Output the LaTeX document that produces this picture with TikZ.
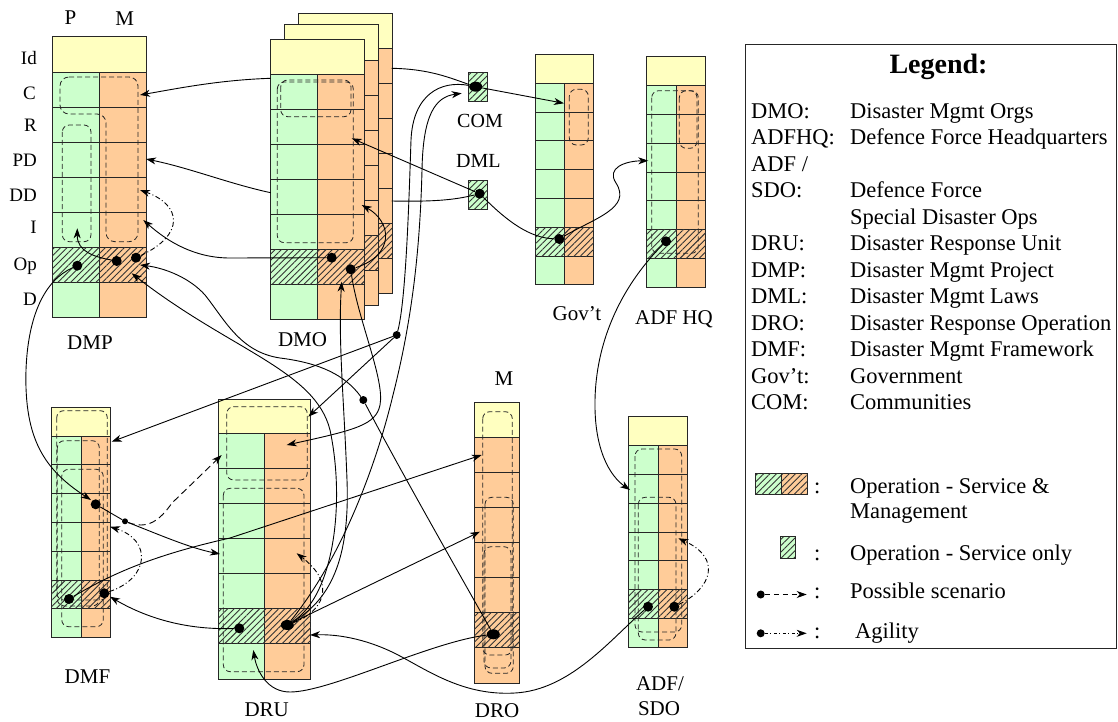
\documentclass[tikz,border=0pt]{standalone}
\usepackage{fontspec}
\setmainfont{Liberation Serif}
\usetikzlibrary{arrows.meta,patterns.meta,shapes.misc,shapes.geometric,calc}
\definecolor{pgreen}{RGB}{204,255,204}
\definecolor{morange}{RGB}{255,204,153}
\definecolor{idyel}{RGB}{255,255,192}
\newcommand\myfs[1]{\fontsize{#1}{#1}\selectfont}
\tikzset{
 cellb/.style={draw=black!85, line width=0.9pt, inner sep=0pt, outer sep=0pt, anchor=north west},
 pc/.style={cellb, fill=pgreen},
 mc/.style={cellb, fill=morange},
 idc/.style={cellb, fill=idyel},
 hatch/.style={pattern={Lines[angle=45,distance=4.5pt,line width=0.9pt]}, pattern color=black!80},
 smallop/.style={chamfered rectangle, chamfered rectangle corners=north west, chamfered rectangle sep=3pt,
   draw=black!85, line width=0.9pt, fill=pgreen, inner sep=0pt, postaction={hatch}},
 dot/.style={circle, fill=black, inner sep=0pt, minimum size=10pt},
 sdot/.style={circle, fill=black, inner sep=0pt, minimum size=8pt},
 tdot/.style={circle, fill=black, inner sep=0pt, minimum size=6pt},
 edot/.style={ellipse, fill=black, inner sep=0pt, minimum width=13pt, minimum height=10pt},
 conn/.style={draw=black, line width=0.9pt},
 arr/.style={conn, -{Stealth[length=10pt,width=7pt,inset=3pt]}},
 possible/.style={arr, dash pattern=on 7pt off 4pt},
 agile/.style={arr, dash pattern=on 5pt off 2.5pt on 1pt off 2.5pt},
 dloop/.style={draw=black!85, line width=0.8pt, dash pattern=on 5pt off 3pt, rounded corners=7pt},
 lbl/.style={font=\myfs{21}, inner sep=0pt},
 rlbl/.style={font=\myfs{19}, inner sep=0pt, anchor=base east},
 lg/.style={font=\myfs{22.5}, inner sep=0pt, anchor=base west},
}
% column of cells: name, x, y, column width, id height, row height
\newcommand\mkcol[6]{%
  \node[idc, minimum width={2*#4pt}, minimum height={#5pt}] (#1-Id) at (#2,#3) {};
  \foreach \k in {1,...,7}{%
    \pgfmathsetmacro\yy{#3+#5+(\k-1)*#6}%
    \node[pc, minimum width={#4pt}, minimum height={#6pt}] (#1-P\k) at (#2,\yy) {};
    \node[mc, minimum width={#4pt}, minimum height={#6pt}] (#1-M\k) at (#2+#4,\yy) {};
  }%
  \fill[hatch] (#1-P6.north west) rectangle (#1-M6.south east);
}
\newcommand\mkcolM[6]{%
  \node[idc, minimum width={#4pt}, minimum height={#5pt}] (#1-Id) at (#2,#3) {};
  \foreach \k in {1,...,7}{%
    \pgfmathsetmacro\yy{#3+#5+(\k-1)*#6}%
    \node[mc, minimum width={#4pt}, minimum height={#6pt}] (#1-M\k) at (#2,\yy) {};
  }%
  \fill[hatch] (#1-M6.north west) rectangle (#1-M6.south east);
}
\begin{document}
\begin{tikzpicture}[x=1pt,y=-1pt]
\useasboundingbox (0,0) rectangle (1118,722);

% ---------- columns ----------
\mkcol{dmoc}{298.7}{13}{46.7}{35.7}{35}
\mkcol{dmob}{284.7}{24.5}{46.7}{35.7}{35}
\mkcol{dmo}{270.7}{39}{46.7}{35.7}{35}
\mkcol{dmp}{52.7}{36}{46.7}{36}{35}
\mkcol{gov}{535.3}{54.7}{29.3}{28.6}{28.8}
\mkcol{hq}{646.7}{56.7}{29.5}{29}{28.8}
\mkcol{dmf}{51.7}{407.3}{29.3}{28.7}{28.8}
\mkcol{dru}{218.3}{399}{46.3}{34.3}{35.1}
\mkcolM{dro}{474}{402.7}{45.3}{34.6}{35.1}
\mkcol{sdo}{628.7}{416.7}{29.3}{29}{28.8}

\node[smallop, minimum width=19.4pt, minimum height=29.4pt] (combox) at (478,87) {};
\node[smallop, minimum width=19.4pt, minimum height=29pt] (dmlbox) at (478,194.8) {};

% ---------- labels ----------
\node[lbl, anchor=base] (lP) at (70.5,25) {P};
\node[lbl, anchor=base] (lM) at (124.7,26) {M};
\node[rlbl] (rId) at (37,65) {Id};
\node[rlbl] (rC) at (36,99.5) {C};
\node[rlbl] (rR) at (37,131.7) {R};
\node[rlbl] (rPD) at (37,166.7) {PD};
\node[rlbl] (rDD) at (37,201.7) {DD};
\node[rlbl] (rI) at (37,233.3) {I};
\node[rlbl] (rOp) at (37,270) {Op};
\node[rlbl] (rD) at (37,305) {D};
\node[lbl, anchor=base] (nDMP) at (90,349) {DMP};
\node[lbl, anchor=base] (nDMO) at (302.5,346.5) {DMO};
\node[lbl, anchor=base, font=\myfs{20}] (nCOM) at (480,127.3) {COM};
\node[lbl, anchor=base, font=\myfs{20}] (nDML) at (478.3,167.3) {DML};
\node[lbl, anchor=base] (nGov) at (577,320) {Gov't};
\node[lbl, anchor=base] (nHQ) at (674,324) {ADF HQ};
\node[lbl, anchor=base] (nDMF) at (87.5,683) {DMF};
\node[lbl, anchor=base] (nDRU) at (266.7,716.5) {DRU};
\node[lbl, anchor=base] (nDROM) at (504,385) {M};
\node[lbl, anchor=base] (nDRO) at (497,717.5) {DRO};
\node[lbl, anchor=base] (nSDOa) at (660,690) {ADF/};
\node[lbl, anchor=base] (nSDOb) at (659,715) {SDO};

% ---------- dashed loops ----------
\draw[dloop, rounded corners=9pt] (60,77) -- (138,77) -- (138,241.7) -- (106,241.7) -- (106,114) -- (60,114) -- cycle;
\draw[dloop] (62.3,125) rectangle (91,241.7);
\draw[dloop] (280.7,80) rectangle (351,116.7);
\draw[dloop] (277.3,82) rectangle (353.3,242.7);
\draw[dloop] (569.3,89.3) rectangle (588.3,145);
\draw[dloop] (651.7,90.7) rectangle (698.3,253.3);
\draw[dloop] (679.3,90.7) rectangle (697,148.3);
\draw[dloop] (56.7,410.7) rectangle (107.3,600);
\draw[dloop] (57.3,440.7) rectangle (99.3,606);
\draw[dloop] (61.7,469.3) rectangle (103.3,626.7);
\draw[dloop] (226.7,406.7) rectangle (307.3,480);
\draw[dloop] (223.3,488.3) rectangle (304,671.7);
\draw[dloop] (482.7,411.7) rectangle (512.3,655);
\draw[dloop] (485,497.3) rectangle (513.3,673.3);
\draw[dloop] (484,546.7) rectangle (511,668);
\draw[dloop] (635,449) rectangle (681.7,632);
\draw[dloop] (638.3,497.3) rectangle (676,640);

% ---------- dots ----------
\node[dot] (dmpP) at (77.3,265.7) {};
\node[dot] (dmpM1) at (116.7,261) {};
\node[dot] (dmpM2) at (136,257.7) {};
\node[dot] (dmoM1) at (331.7,257.7) {};
\node[dot] (dmoM2) at (350.7,269.3) {};
\node[edot] (comD) at (475.7,86.7) {};
\node[dot] (dmlD) at (479.7,193.7) {};
\node[dot] (govD) at (559.3,239) {};
\node[dot] (hqD) at (666,241.3) {};
\node[sdot] (J2) at (396.7,335) {};
\node[sdot] (J1) at (363.3,400) {};
\node[dot] (dmfD) at (95.7,504.3) {};
\node[tdot] (J3) at (125,521.3) {};
\node[dot] (dmfP) at (69,599) {};
\node[dot] (dmfM) at (104.3,593.3) {};
\node[dot] (druP) at (239.3,628.3) {};
\node[edot] (druM) at (287.3,625) {};
\node[edot] (droD) at (493.3,634.3) {};
\node[dot] (sdoP) at (648,606.7) {};
\node[dot] (sdoM) at (674.3,606.7) {};

% ---------- connector end points ----------
\coordinate (a1s) at (270.7,78.3);  \coordinate (a1e) at (140,95);
\coordinate (a2s) at (270.7,192.7); \coordinate (a2e) at (146,159);
\coordinate (a3e) at (143.3,220);
\coordinate (a4e) at (140,265);
\coordinate (a5e) at (131.7,273.3);
\coordinate (a6e) at (140,190);
\coordinate (a7e) at (77.3,228.3);
\coordinate (a8e) at (91,500);
\coordinate (a9e) at (220,554);
\coordinate (a10e) at (221.7,455);
\coordinate (a11e) at (110,526.7);
\coordinate (a12e) at (481.7,455);
\coordinate (a13e) at (110,596.7);
\coordinate (a14e) at (111.7,441.7);
\coordinate (a15e) at (308.3,416.7);
\coordinate (a17e) at (461.7,93.3);
\coordinate (a18e) at (564,103.3);
\coordinate (a19s) at (391.7,68.3);
\coordinate (a20s) at (391.7,201);
\coordinate (a21e) at (351.7,138.3);
\coordinate (a23e) at (648.3,160.7);
\coordinate (a24e) at (630,490);
\coordinate (a25e) at (310,635);
\coordinate (a26e) at (253.3,650);
\coordinate (a27e) at (480,531.7);
\coordinate (a28e) at (341.7,281.7);
\coordinate (a31e) at (286.7,445);
\coordinate (a32e) at (361.7,205);
\coordinate (a33e) at (296.7,553.3);
\coordinate (a34e) at (678.3,538.3);

% ---------- connectors ----------
\draw[arr] (a1s) .. controls (220,80) and (180,88) .. (a1e);
\draw[arr] (a2s) .. controls (230,184) and (190,168) .. (a2e);
\draw[arr] (dmoM1) -- (230,258) .. controls (195,258) and (168,242) .. (a3e);
\draw[arr] (J1) .. controls (345,375) and (320,363) .. (280,358) .. controls (240,352) and (225,320) .. (205,295) .. controls (190,278) and (165,268) .. (a4e);
\draw[conn] (droD) .. controls (460,575) and (400,470) .. (J1);
\draw[arr] (druM) .. controls (335,595) and (345,500) .. (330,430) .. controls (315,370) and (230,350) .. (a5e);
\draw[agile] (dmpM2) .. controls (185,235) and (182,205) .. (a6e);
\draw[arr] (dmpM1) .. controls (95,257) and (77,252) .. (a7e);
\draw[arr] (dmpP) .. controls (45,280) and (28,315) .. (26,370) .. controls (24,440) and (45,470) .. (a8e);
\draw[conn] (dmfD) -- (J3);
\draw[arr] (J3) .. controls (160,535) and (190,548) .. (a9e);
\draw[possible] (J3) .. controls (148,530) and (160,520) .. (172,503) -- (a10e);
\draw[agile] (dmfM) .. controls (150,578) and (152,540) .. (a11e);
\draw[arr] (dmfP) .. controls (110,575) and (150,556) .. (230,538) -- (a12e);
\draw[arr] (druP) .. controls (190,630) and (150,620) .. (a13e);
\draw[arr] (J2) -- (a14e);
\draw[arr] (J2) -- (a15e);
\draw[conn] (J2) .. controls (406,300) and (409,200) .. (411,140) .. controls (413,95) and (440,80) .. (comD);
\draw[arr] (druM) .. controls (340,560) and (375,470) .. (393,395) .. controls (412,320) and (420,250) .. (422,170) .. controls (423,115) and (435,97) .. (a17e);
\draw[arr] (comD) -- (a18e);
\draw[conn] (a19s) .. controls (430,69) and (450,78) .. (comD);
\draw[conn] (a20s) .. controls (440,202) and (458,199) .. (dmlD);
\draw[arr] (dmlD) -- (a21e);
\draw[conn] (dmlD) .. controls (508,222) and (530,238) .. (govD);
\draw[arr] (govD) .. controls (595,218) and (632,208) .. (616,183) .. controls (606,168) and (625,161) .. (a23e);
\draw[arr] (hqD) .. controls (618,290) and (596,345) .. (595,400) .. controls (594,450) and (610,476) .. (a24e);
\draw[arr] (sdoP) .. controls (610,640) and (570,690) .. (515,693) .. controls (465,696) and (430,672) .. (400,656) .. controls (370,640) and (340,634) .. (a25e);
\draw[arr] (droD) .. controls (430,642) and (330,692) .. (290,692) .. controls (268,692) and (257,672) .. (a26e);
\draw[arr] (druM) -- (a27e);
\draw[arr] (druM) .. controls (330,600) and (350,560) .. (347,480) .. controls (344,400) and (338,340) .. (a28e);
\draw[arr] (dmoM2) .. controls (358,320) and (385,380) .. (380,405) .. controls (376,425) and (355,430) .. (a31e);
\draw[arr] (dmoM2) .. controls (395,255) and (392,222) .. (a32e);
\draw[agile] (druM) .. controls (322,612) and (338,585) .. (a33e);
\draw[agile] (sdoM) .. controls (712,588) and (722,558) .. (a34e);

% ---------- legend ----------
\node[draw=black!85, line width=0.9pt, anchor=north west, inner sep=0pt, minimum width=371pt, minimum height=603.5pt] (legbox) at (745.3,44) {};
\node[font=\myfs{28}\bfseries, anchor=base, inner sep=0pt] (legt) at (938.5,74) {Legend:};
\node[lg] (k1) at (751,118.3) {DMO:};            \node[lg] (v1) at (850,118.3) {Disaster Mgmt Orgs};
\node[lg] (k2) at (751,144.8) {ADFHQ:};          \node[lg] (v2) at (850,144.8) {Defence Force Headquarters};
\node[lg] (k3) at (751,171.3) {ADF /};
\node[lg] (k4) at (751,197.8) {SDO:};            \node[lg] (v4) at (850,197.8) {Defence Force};
                                                 \node[lg] (v5) at (850,224.3) {Special Disaster Ops};
\node[lg] (k6) at (751,250.8) {DRU:};            \node[lg] (v6) at (850,250.8) {Disaster Response Unit};
\node[lg] (k7) at (751,277.3) {DMP:};            \node[lg] (v7) at (850,277.3) {Disaster Mgmt Project};
\node[lg] (k8) at (751,303.8) {DML:};            \node[lg] (v8) at (850,303.8) {Disaster Mgmt Laws};
\node[lg] (k9) at (751,330.3) {DRO:};            \node[lg] (v9) at (850,330.3) {Disaster Response Operation};
\node[lg] (k10) at (751,356.8) {DMF:};           \node[lg] (v10) at (850,356.8) {Disaster Mgmt Framework};
\node[lg] (k11) at (751,383.3) {Gov't:};         \node[lg] (v11) at (850,383.3) {Government};
\node[lg] (k12) at (751,409.8) {COM:};           \node[lg] (v12) at (850,409.8) {Communities};

\node[pc, minimum width=26pt, minimum height=20.7pt, postaction={hatch}] (lgP) at (755.7,473.3) {};
\node[mc, minimum width=26pt, minimum height=20.7pt, postaction={hatch}] (lgM) at (781.7,473.3) {};
\node[smallop, minimum width=15pt, minimum height=21.6pt] (lgS) at (787.5,547.5) {};
\node[lg] (c1) at (814,493.3) {:};  \node[lg] (t1) at (850,493.3) {Operation - Service \&};
                                    \node[lg] (t1b) at (850,518.3) {Management};
\node[lg] (c2) at (814,560) {:};    \node[lg] (t2) at (850,560) {Operation - Service only};
\node[lg] (c3) at (814,598.3) {:};  \node[lg] (t3) at (850,598.3) {Possible scenario};
\node[lg] (c4) at (814,638.3) {:};  \node[lg] (t4) at (855,638.3) {Agility};
\node[sdot] (lgd1) at (760.7,594.5) {};  \coordinate (lge1) at (806.7,594.5);
\node[sdot] (lgd2) at (760.7,633.3) {};  \coordinate (lge2) at (806.7,633.3);
\draw[possible, dash pattern=on 5pt off 4pt] (lgd1) -- (lge1);
\draw[agile, dash pattern=on 3pt off 2.5pt on 1pt off 2.5pt] (lgd2) -- (lge2);
\end{tikzpicture}
\end{document}
